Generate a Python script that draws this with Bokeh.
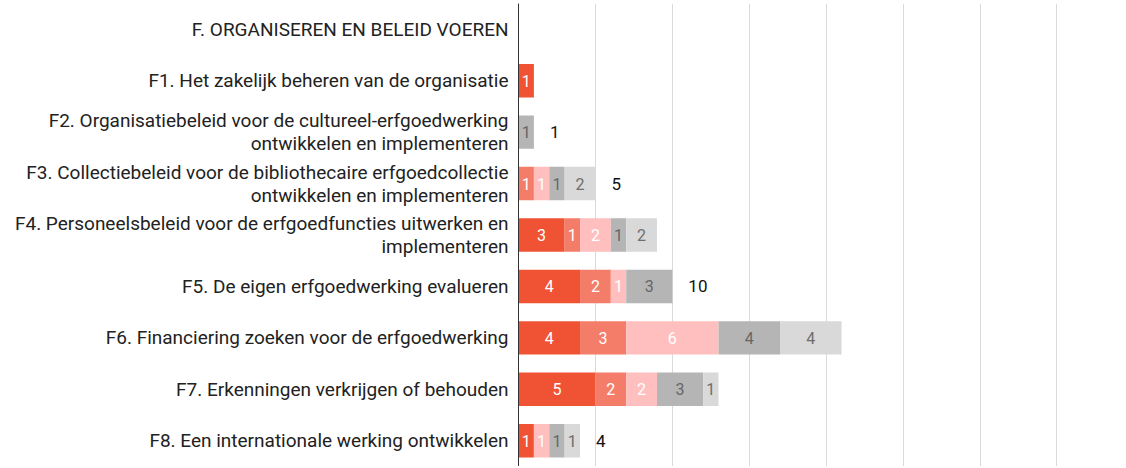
from bokeh.plotting import figure
from bokeh.models import ColumnDataSource, FixedTicker
from bokeh.core.properties import value
from bokeh.embed import file_html
from bokeh.resources import INLINE
import numpy as np

categories = [
    "F. ORGANISEREN EN BELEID VOEREN",
    "F1. Het zakelijk beheren van de organisatie",
    "F2. Organisatiebeleid voor de cultureel-erfgoedwerking\nontwikkelen en implementeren",
    "F3. Collectiebeleid voor de bibliothecaire erfgoedcollectie\nontwikkelen en implementeren",
    "F4. Personeelsbeleid voor de erfgoedfuncties uitwerken en\nimplementeren",
    "F5. De eigen erfgoedwerking evalueren",
    "F6. Financiering zoeken voor de erfgoedwerking",
    "F7. Erkenningen verkrijgen of behouden",
    "F8. Een internationale werking ontwikkelen",
]
series_1 = [0, 1, 0, 0, 3, 4, 4, 5, 1]
series_2 = [0, 0, 0, 1, 1, 2, 3, 2, 0]
series_3 = [0, 0, 0, 1, 2, 1, 6, 2, 1]
series_4 = [0, 0, 1, 1, 1, 3, 4, 3, 1]
series_5 = [0, 0, 0, 2, 2, 0, 4, 1, 1]
total_shown = [False, False, True, True, False, True, False, False, True]
grid_ticks = [0, 5, 10, 15, 20, 25, 30, 35]

colors = ["#F05334", "#F47D69", "#FFBFBF", "#B5B5B5", "#D9D9D9"]
label_colors = ["#FFFFFF", "#FFFFFF", "#FFFFFF", "#666666", "#6E6E6E"]

p = figure(width=1118, height=466, output_backend="svg", toolbar_location=None,
           y_range=list(reversed(categories)), x_range=(0, 39),
           min_border_left=518, min_border_right=0, min_border_top=3, min_border_bottom=0)

allseries = [series_1, series_2, series_3, series_4, series_5]
left = np.zeros(len(categories))
for s, c, lc in zip(allseries, colors, label_colors):
    vals = np.array(s, dtype=float)
    right = left + vals
    mask = vals > 0
    src = ColumnDataSource(dict(
        y=[categories[i] for i in range(len(categories)) if mask[i]],
        left=left[mask], right=right[mask],
        mid=((left + right) / 2)[mask],
        txt=[str(int(v)) for v in vals[mask]],
    ))
    p.hbar(y="y", left="left", right="right", height=0.65, source=src,
           fill_color=c, line_color=None)
    p.text(x="mid", y="y", text="txt", source=src, text_align="center",
           text_baseline="middle", text_color=lc, text_font_size="16px",
           text_font=value("Roboto"))
    left = right

totals = left
idx = [i for i in range(len(categories)) if total_shown[i]]
tsrc = ColumnDataSource(dict(
    y=[categories[i] for i in idx],
    x=[totals[i] for i in idx],
    txt=[str(int(totals[i])) for i in idx],
))
p.text(x="x", y="y", text="txt", source=tsrc, x_offset=16, text_align="left",
       text_baseline="middle", text_color="#111111", text_font_size="17px",
       text_font=value("Roboto"))

p.xaxis.visible = False
p.xaxis.ticker = FixedTicker(ticks=grid_ticks)
p.xgrid.ticker = FixedTicker(ticks=grid_ticks)
p.xgrid.grid_line_color = "#DADADA"
p.ygrid.grid_line_color = None
p.outline_line_color = None

ya = p.yaxis[0]
ya.axis_line_color = "#333333"
ya.major_tick_line_color = None
ya.minor_tick_line_color = None
ya.major_label_text_font = "Roboto"
ya.major_label_text_font_size = "19px"
ya.major_label_text_color = "#222222"
ya.major_label_text_line_height = 1.0
ya.major_label_standoff = 4

open("out.html", "w").write(file_html(p, INLINE))
